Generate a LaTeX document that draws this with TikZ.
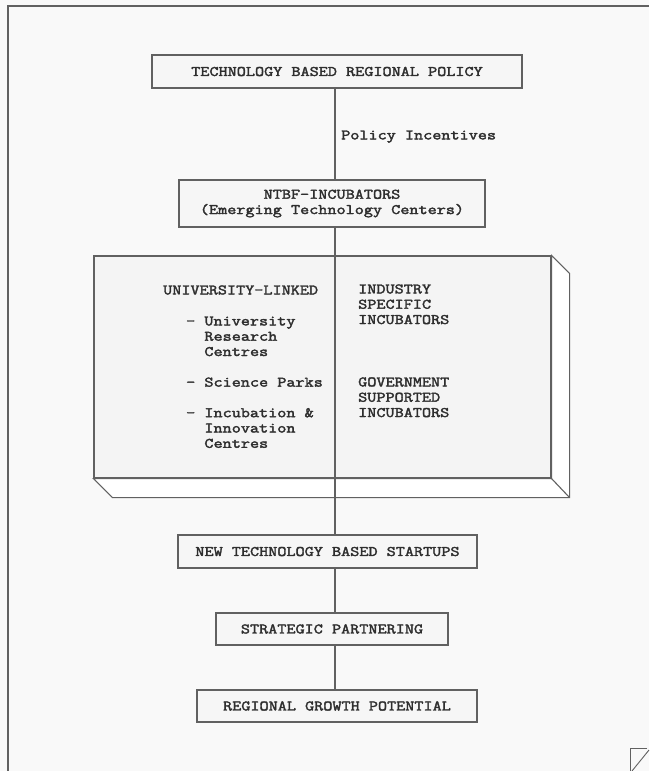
\documentclass[tikz,border=0pt]{standalone}
\usepackage{fontspec}
\newfontfamily\typewriter{Latin Modern Mono}[FakeStretch=1.22, FakeBold=2.4]
\usetikzlibrary{calc}
\begin{document}
\begin{tikzpicture}[x=1pt,y=-1pt,
  ink/.style={draw=black!62, line width=1.1pt},
  label/.style={font=\typewriter\fontsize{14.5}{15.3}\selectfont, text=black!82, inner sep=0pt},
  stage/.style={ink, label, fill=gray!7, align=center},
]
% paper
\fill[gray!5] (0,0) rectangle (649,771);
\useasboundingbox (0,0) rectangle (649,771);

% page frame and corner mark
\draw[ink] (8,771) -- (8,6) -- (649,6);
\draw[ink, line width=0.9pt] (647,748) -- (630,748) -- (630,771);
\draw[ink, line width=0.9pt] (632,771) -- (649,750);

% spine of the flow
\coordinate (spine) at (335,0);

% stages
\node[stage, minimum width=370, minimum height=33] (policy) at (337,71.5)
  {TECHNOLOGY BASED REGIONAL POLICY};
\node[stage, minimum width=306, minimum height=47] (ntbf) at (332,203.5)
  {NTBF-INCUBATORS\\(Emerging Technology Centers)};

% incubator block drawn as a slab
\node[ink, fill=gray!9, minimum width=457, minimum height=222, inner sep=0pt] (hub) at (322.5,367) {};
\coordinate (backTR) at ($(hub.north east)+(18,18)$);
\coordinate (backBR) at ($(hub.south east)+(18,19)$);
\coordinate (backBL) at ($(hub.south west)+(19,19)$);
\filldraw[ink, fill=white] (hub.north east) -- (backTR) -- (backBR) -- (backBL)
  -- (hub.south west) -- (hub.south east) -- cycle;
\draw[ink] (hub.south east) -- (backBR);

\node[stage, minimum width=299, minimum height=33] (startups) at (327.5,551.5)
  {NEW TECHNOLOGY BASED STARTUPS};
\node[stage, minimum width=232, minimum height=32] (partner) at (332,629)
  {STRATEGIC PARTNERING};
\node[stage, minimum width=280, minimum height=32] (growth) at (337,706)
  {REGIONAL GROWTH POTENTIAL};

% connectors
\draw[ink] (policy.south -| spine) -- (ntbf.north -| spine);
\draw[ink] (ntbf.south -| spine) -- (startups.north -| spine);
\draw[ink] (startups.south -| spine) -- (partner.north -| spine);
\draw[ink] (partner.south -| spine) -- (growth.north -| spine);

\node[label, anchor=base west] (incent) at (341,139.4) {Policy Incentives};

% contents of the incubator block
\node[label, anchor=base west] (univ) at (163,294.4) {UNIVERSITY-LINKED};
\node[label, anchor=base west] (univitems) at (186,325.4) {%
  \begin{tabular}[t]{@{}l@{}}
  - University\\
  \phantom{- }Research\\
  \phantom{- }Centres\\
  \\
  - Science Parks\\
  \\
  - Incubation \&\\
  \phantom{- }Innovation\\
  \phantom{- }Centres
  \end{tabular}};
\node[label, anchor=base west] (industry) at (358,293.4) {%
  \begin{tabular}[t]{@{}l@{}}
  INDUSTRY\\
  SPECIFIC\\
  INCUBATORS
  \end{tabular}};
\node[label, anchor=base west] (govt) at (358,386.4) {%
  \begin{tabular}[t]{@{}l@{}}
  GOVERNMENT\\
  SUPPORTED\\
  INCUBATORS
  \end{tabular}};
\end{tikzpicture}
\end{document}
